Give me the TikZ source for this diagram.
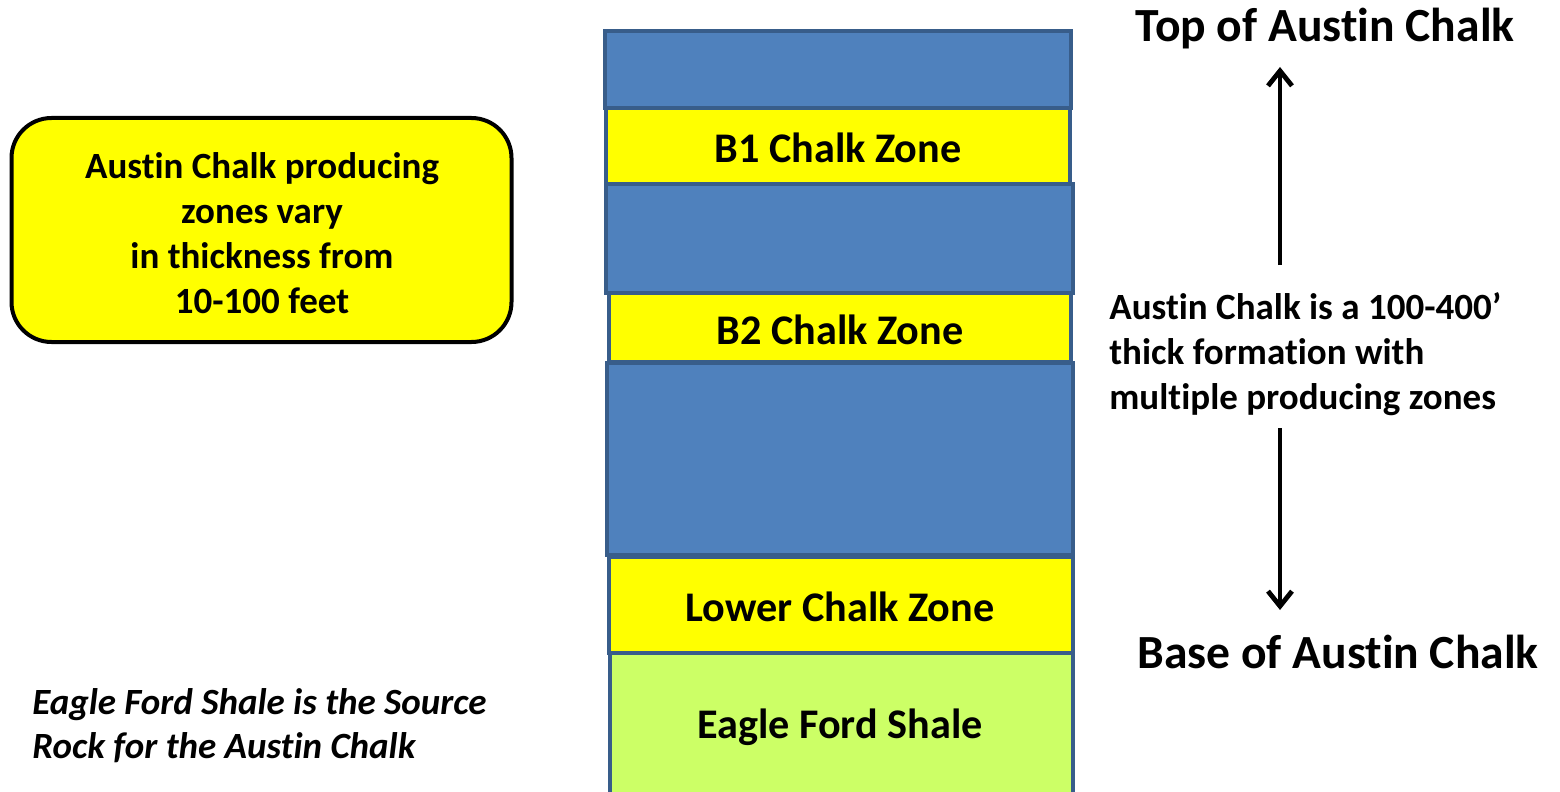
\documentclass[tikz,border=0pt]{standalone}
\usepackage{fontspec}
\setmainfont{Carlito}[Ligatures={NoCommon,TeX}]
\usetikzlibrary{arrows.meta}
\definecolor{layblue}{HTML}{4F81BD}
\definecolor{layedge}{HTML}{385D8A}
\definecolor{layyellow}{HTML}{FFFF00}
\definecolor{laygreen}{HTML}{CCFF66}
\tikzset{
  layer/.style={draw=layedge, line width=1.6pt},
  bluelayer/.style={layer, fill=layblue},
  yellowlayer/.style={layer, fill=layyellow},
  greenlayer/.style={layer, fill=laygreen},
  zonelabel/.style={font=\bfseries\fontsize{21.1}{25}\selectfont, inner sep=0pt},
  bigtitle/.style={font=\bfseries\fontsize{23.8}{28}\selectfont, inner sep=0pt},
  bodytext/.style={font=\bfseries\fontsize{18.5}{22.5}\selectfont, inner sep=0pt},
  ittext/.style={font=\bfseries\itshape\fontsize{18.5}{22}\selectfont, inner sep=0pt, align=left},
  arr/.style={line width=2pt, -{Straight Barb[length=7.5pt,width=12pt,line width=2.4pt]}},
}
\begin{document}
\begin{tikzpicture}[x=0.5pt,y=-0.5pt]
\useasboundingbox (0,0) rectangle (1560,792);
% column
\path[greenlayer] (610,653) rectangle (1073,800);
\path[yellowlayer] (609,557) rectangle (1073,653);
\path[bluelayer] (607,363) rectangle (1073,555);
\path[yellowlayer] (609,293) rectangle (1071,362);
\path[bluelayer] (606,184) rectangle (1073,293);
\path[bluelayer] (605,31) rectangle (1071,108);
\path[yellowlayer] (606,108) rectangle (1070,184);
\node[zonelabel] (b1) at (838,148) {B1 Chalk Zone};
\node[zonelabel] (b2) at (840,330) {B2 Chalk Zone};
\node[zonelabel] (lower) at (840,607) {Lower Chalk Zone};
\node[zonelabel] (eagle) at (840,727) {Eagle Ford Shale};
% left box
\node[draw=black, line width=2pt, fill=layyellow, rounded corners=20pt,
      minimum width=250pt, minimum height=112pt, inner sep=0pt] (box) at (261.5,230) {};
\node[bodytext, align=center] (boxtext) at (262,233) {Austin Chalk producing\\zones vary\\in thickness from\\10-100 feet};
% right side
\node[bigtitle] (top) at (1325,29) {Top of Austin Chalk};
\node[bigtitle] (base) at (1338,652) {Base of Austin Chalk};
\node[bodytext, align=left, anchor=west] (thick) at (1109,354) {Austin Chalk is a 100-400’\\thick formation with\\multiple producing zones};
\coordinate (upstart) at (1280,265);
\coordinate (uptip) at (1280,67);
\coordinate (dnstart) at (1280,428);
\coordinate (dntip) at (1280,610);
\draw[arr] (upstart) -- (uptip);
\draw[arr] (dnstart) -- (dntip);
% italic note
\node[ittext, anchor=west] (note) at (32,726) {Eagle Ford Shale is the Source\\Rock for the Austin Chalk};
\end{tikzpicture}
\end{document}
